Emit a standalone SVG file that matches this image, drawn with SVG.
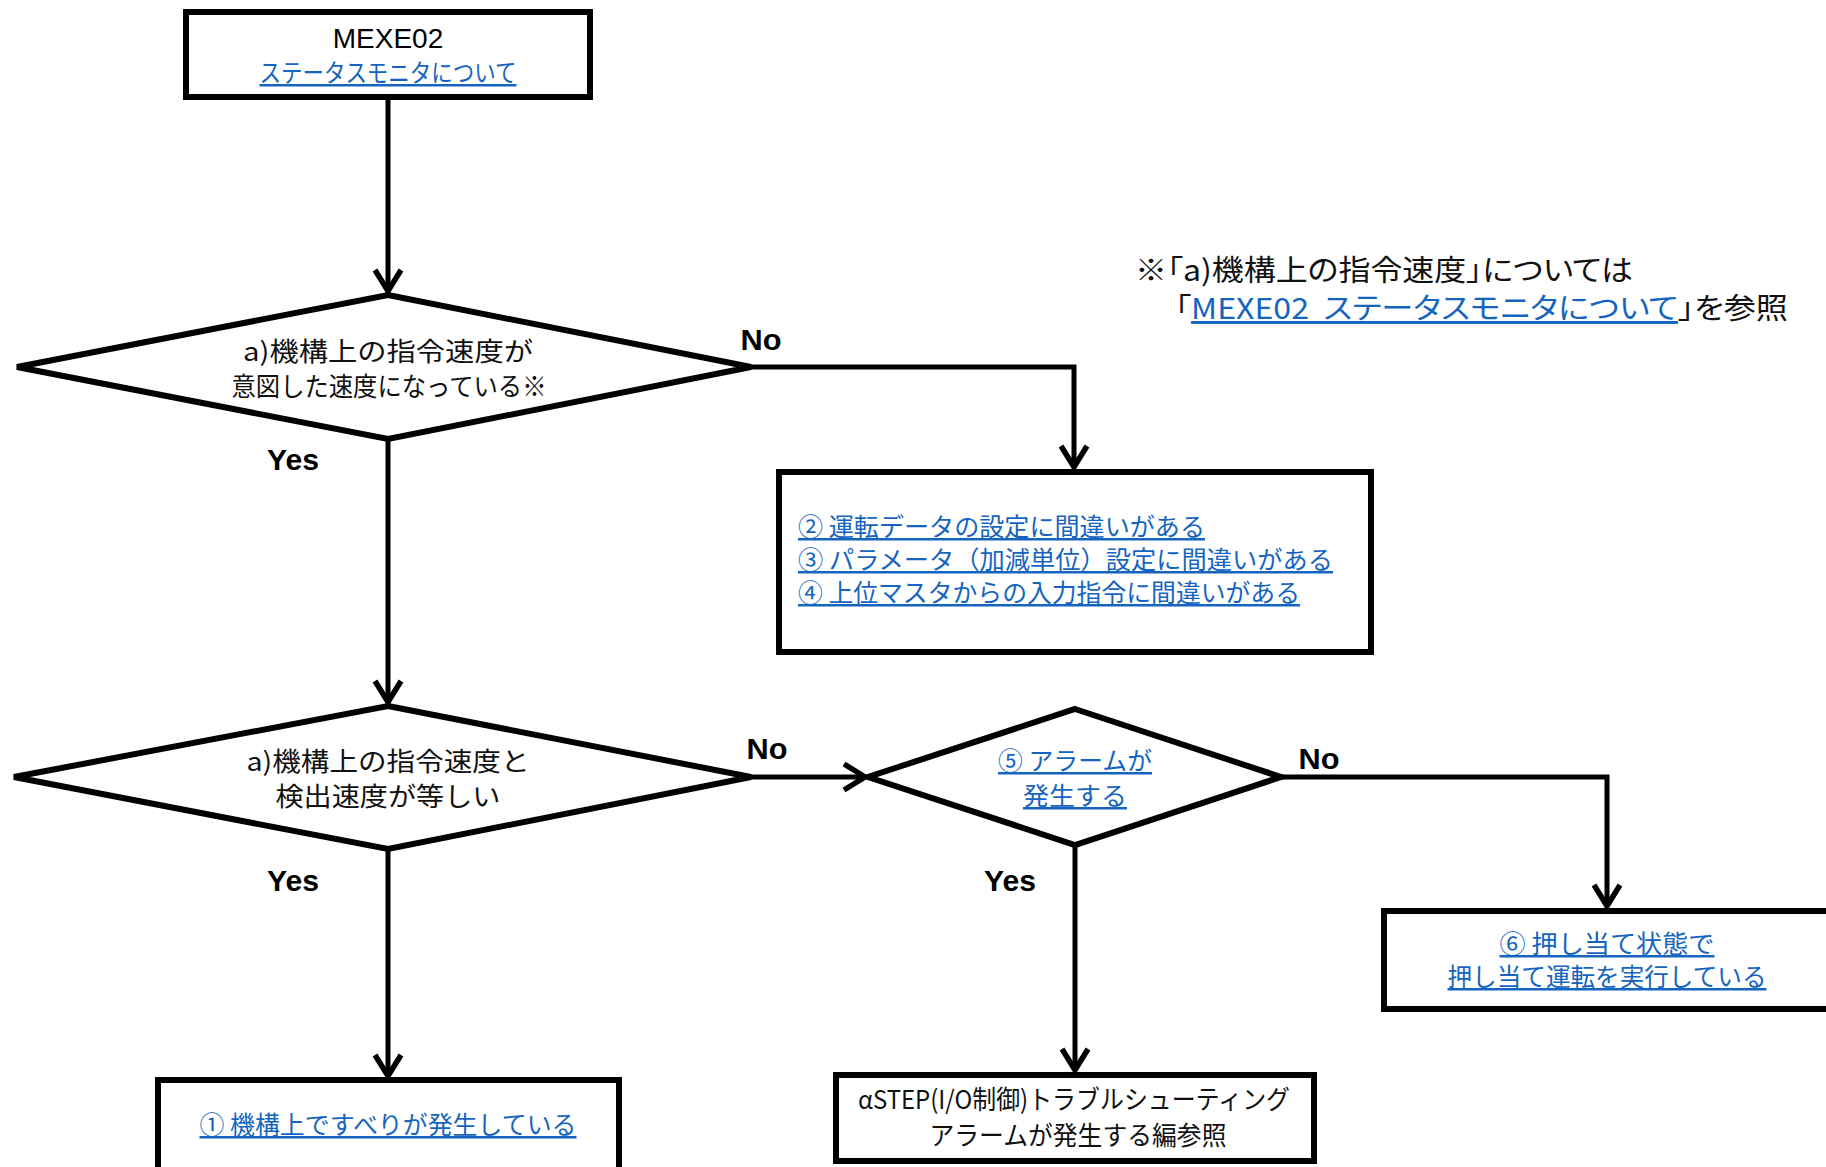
<svg xmlns="http://www.w3.org/2000/svg" width="1826" height="1167" viewBox="0 0 1826 1167">
<style>
.shape{fill:#fff;stroke:#000;stroke-width:6;stroke-linejoin:miter}
.conn{fill:none;stroke:#000;stroke-width:5}
.t{font-family:"Liberation Sans","Noto Sans CJK JP",sans-serif;fill:#000}
.jp{font-family:"Noto Sans CJK JP","Liberation Sans",sans-serif;fill:#111;font-size:26px}
.lk{font-family:"Noto Sans CJK JP","Liberation Sans",sans-serif;fill:#1565c0;font-size:25px;text-decoration:underline}
.lbl{font-family:"Liberation Sans",Arial,sans-serif;font-weight:bold;font-size:29px;fill:#000}
.note{font-family:"Noto Sans CJK JP","Liberation Sans",sans-serif;fill:#111;font-size:29px;font-feature-settings:"palt";white-space:pre}
.ul{fill:#1565c0;text-decoration:underline}
</style>
<defs>
<marker id="arr" markerUnits="userSpaceOnUse" markerWidth="40" markerHeight="40" viewBox="-30 -20 40 40" refX="0" refY="0" orient="auto" overflow="visible">
<path d="M-21,-13 L0,0 L-21,13" fill="none" stroke="#000" stroke-width="5.5" stroke-linejoin="miter"/>
</marker>
</defs>
<rect width="1826" height="1167" fill="#fff"/>

<g id="connectors">
<path class="conn" d="M388,99 V291" marker-end="url(#arr)"/>
<path class="conn" d="M751,367 H1074 V467" marker-end="url(#arr)"/>
<path class="conn" d="M388,439 V702" marker-end="url(#arr)"/>
<path class="conn" d="M751,777 H865" marker-end="url(#arr)"/>
<path class="conn" d="M1281,777 H1607 V906" marker-end="url(#arr)"/>
<path class="conn" d="M388,849 V1076" marker-end="url(#arr)"/>
<path class="conn" d="M1075,845 V1070" marker-end="url(#arr)"/>
<text class="lbl" x="761" y="350" text-anchor="middle" textLength="41" lengthAdjust="spacingAndGlyphs">No</text>
<text class="lbl" x="767" y="759" text-anchor="middle" textLength="41" lengthAdjust="spacingAndGlyphs">No</text>
<text class="lbl" x="1319" y="769" text-anchor="middle" textLength="41" lengthAdjust="spacingAndGlyphs">No</text>
<text class="lbl" x="293" y="470" text-anchor="middle" textLength="52" lengthAdjust="spacingAndGlyphs">Yes</text>
<text class="lbl" x="293" y="891" text-anchor="middle" textLength="52" lengthAdjust="spacingAndGlyphs">Yes</text>
<text class="lbl" x="1010" y="891" text-anchor="middle" textLength="52" lengthAdjust="spacingAndGlyphs">Yes</text>
</g>

<g id="start">
<rect class="shape" x="186" y="12" width="404" height="85"/>
<text class="t" x="388" y="48" font-size="28" text-anchor="middle">MEXE02</text>
<text class="lk" x="388" y="82" text-anchor="middle" textLength="257" lengthAdjust="spacingAndGlyphs">ステータスモニタについて</text>
</g>

<g id="decision1">
<polygon class="shape" points="388,295 751,367 388,439 17,367"/>
<text class="jp" x="388" y="361" text-anchor="middle" textLength="290" lengthAdjust="spacingAndGlyphs">a)機構上の指令速度が</text>
<text class="jp" x="389" y="396" text-anchor="middle" textLength="315" lengthAdjust="spacingAndGlyphs">意図した速度になっている※</text>
</g>

<g id="box-causes">
<rect class="shape" x="779" y="472" width="592" height="180"/>
<text class="lk" x="798" y="536" textLength="407" lengthAdjust="spacingAndGlyphs">② 運転データの設定に間違いがある</text>
<text class="lk" x="798" y="569" textLength="535" lengthAdjust="spacingAndGlyphs">③ パラメータ（加減単位）設定に間違いがある</text>
<text class="lk" x="798" y="602" textLength="502" lengthAdjust="spacingAndGlyphs">④ 上位マスタからの入力指令に間違いがある</text>
</g>

<g id="decision2">
<polygon class="shape" points="388,706 751,777 388,849 14,777"/>
<text class="jp" x="388" y="771" text-anchor="middle" textLength="283" lengthAdjust="spacingAndGlyphs">a)機構上の指令速度と</text>
<text class="jp" x="388" y="806" text-anchor="middle" textLength="225" lengthAdjust="spacingAndGlyphs">検出速度が等しい</text>
</g>

<g id="decision3">
<polygon class="shape" points="1075,709 1281,777 1075,845 868,777"/>
<text class="lk" x="1075" y="770" text-anchor="middle" textLength="154" lengthAdjust="spacingAndGlyphs">⑤ アラームが</text>
<text class="lk" x="1075" y="805" text-anchor="middle" textLength="104" lengthAdjust="spacingAndGlyphs">発生する</text>
</g>

<g id="box-push">
<rect class="shape" x="1384" y="911" width="460" height="98"/>
<text class="lk" x="1607" y="953" text-anchor="middle" textLength="215" lengthAdjust="spacingAndGlyphs">⑥ 押し当て状態で</text>
<text class="lk" x="1607" y="986" text-anchor="middle" textLength="319" lengthAdjust="spacingAndGlyphs">押し当て運転を実行している</text>
</g>

<g id="box-slip">
<rect class="shape" x="158" y="1080" width="461" height="100"/>
<text class="lk" x="388" y="1134" text-anchor="middle" textLength="377" lengthAdjust="spacingAndGlyphs">① 機構上ですべりが発生している</text>
</g>

<g id="box-alarm">
<rect class="shape" x="836" y="1075" width="478" height="86"/>
<text class="jp" x="1074" y="1109" text-anchor="middle" textLength="432" lengthAdjust="spacingAndGlyphs">αSTEP(I/O制御)トラブルシューティング</text>
<text class="jp" x="1078" y="1145" text-anchor="middle" textLength="297" lengthAdjust="spacingAndGlyphs">アラームが発生する編参照</text>
</g>

<g id="note">
<text class="note" x="1135" y="281" textLength="498" lengthAdjust="spacingAndGlyphs">※「a)機構上の指令速度」については</text>
<text class="note" x="1175" y="319" textLength="613" lengthAdjust="spacingAndGlyphs">「<tspan class="ul">MEXE02  ステータスモニタについて</tspan>」を参照</text>
</g>
</svg>
